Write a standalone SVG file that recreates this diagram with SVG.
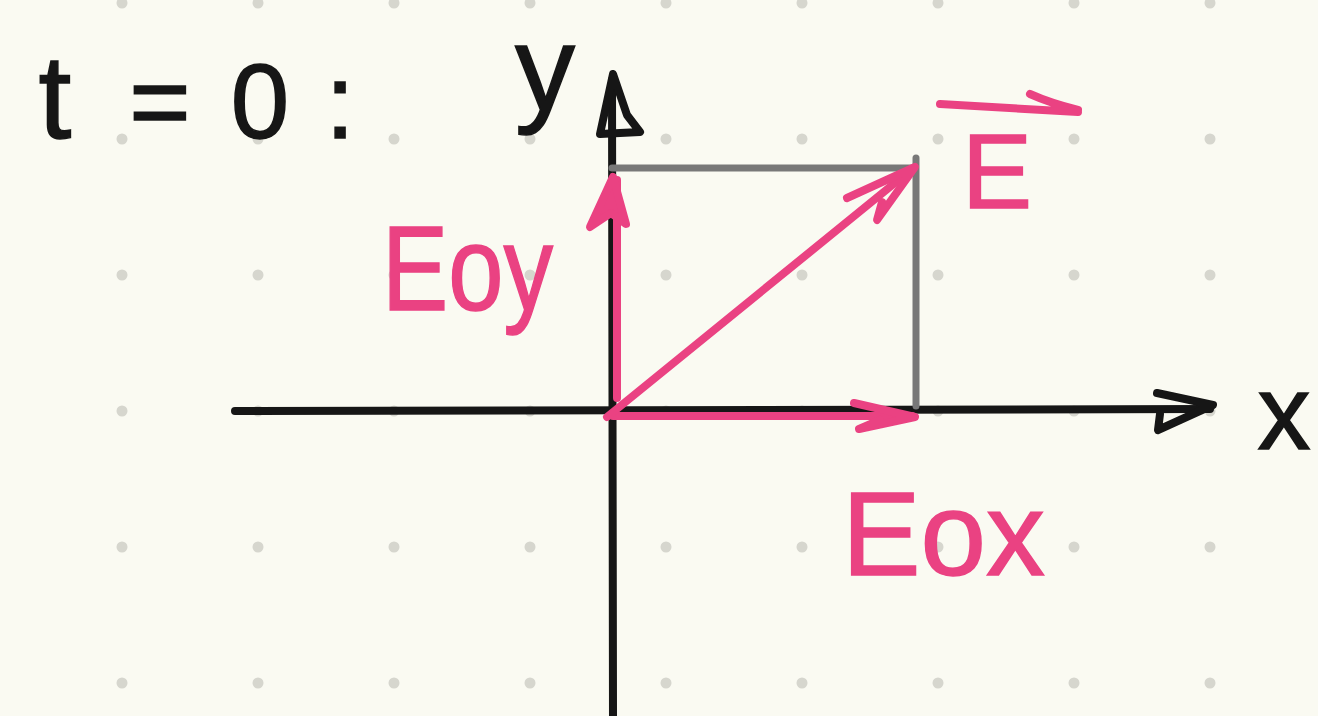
<svg xmlns="http://www.w3.org/2000/svg" width="1318" height="716" viewBox="0 0 1318 716">
<defs>
<style>
.dot{fill:#d6d6ce}
.blk{fill:none;stroke:#161616;stroke-width:8;stroke-linecap:round;stroke-linejoin:round}
.gry{fill:none;stroke:#787878;stroke-width:7;stroke-linecap:round}
.pnk{fill:none;stroke:#ea4282;stroke-width:8;stroke-linecap:round;stroke-linejoin:round}
.pfill{fill:#ea4282}
.tb{font-family:"Liberation Sans",Arial,sans-serif;fill:#161616;stroke:#161616;stroke-width:1.5}
.tp{font-family:"Liberation Sans",Arial,sans-serif;fill:#ea4282;stroke:#ea4282;stroke-width:1.5}
</style>
<pattern id="grid" x="54" y="-65" width="136" height="136" patternUnits="userSpaceOnUse">
<circle class="dot" cx="68" cy="68" r="5.5"/>
</pattern>
</defs>
<rect width="1318" height="716" fill="#fafaf2"/>
<rect width="1318" height="716" fill="url(#grid)"/>
<g id="axes">
<path class="blk" d="M235 411 L1210 409"/>
<path class="blk" d="M1157 393 L1213 405 L1158 430 L1160 414"/>
<path class="blk" d="M613 716 L612 80"/>
<path class="blk" d="M600 134 L613 74 L627 115 L640 132 Z"/>
</g>
<g id="box">
<path class="gry" d="M612 168 L915 168"/>
<path class="gry" d="M916 158 L916 406"/>
</g>
<g id="connectors">
<path class="pnk" d="M617 398 L617 180"/>
<path class="pnk pfill" d="M590 227 L613 177 L626 224 L611 213 Z"/>
<path class="pnk" d="M613 416 L912 416"/>
<path class="pnk" d="M854 403 L915 417 L859 429 L880 420"/>
<path class="pnk" d="M607 417 L912 169"/>
<path class="pnk" d="M847 198 L915 167 L877 220 L882 202"/>
</g>
<g id="label-t0">
<text class="tb" font-size="105"><tspan x="55" y="138" text-anchor="middle" font-size="118">t</tspan><tspan x="160" y="138" text-anchor="middle">=</tspan><tspan x="260" y="138" text-anchor="middle">0</tspan><tspan x="340" y="138" text-anchor="middle">:</tspan></text>
</g>
<g id="label-y"><text class="tb" x="545" y="110" font-size="120" text-anchor="middle">y</text></g>
<g id="label-x"><text class="tb" x="1284" y="449" font-size="106" text-anchor="middle">x</text></g>
<g id="label-Eoy"><text class="tp" x="382" y="310" font-size="120" textLength="171" lengthAdjust="spacingAndGlyphs">Eoy</text></g>
<g id="label-Eox"><text class="tp" x="842" y="575" font-size="118" textLength="203" lengthAdjust="spacingAndGlyphs">Eox</text></g>
<g id="label-E">
<text class="tp" x="962" y="208" font-size="105">E</text>
<path class="pnk" d="M940 104 L1078 112 M1030 94 Q1050 103 1078 110"/>
</g>
</svg>
